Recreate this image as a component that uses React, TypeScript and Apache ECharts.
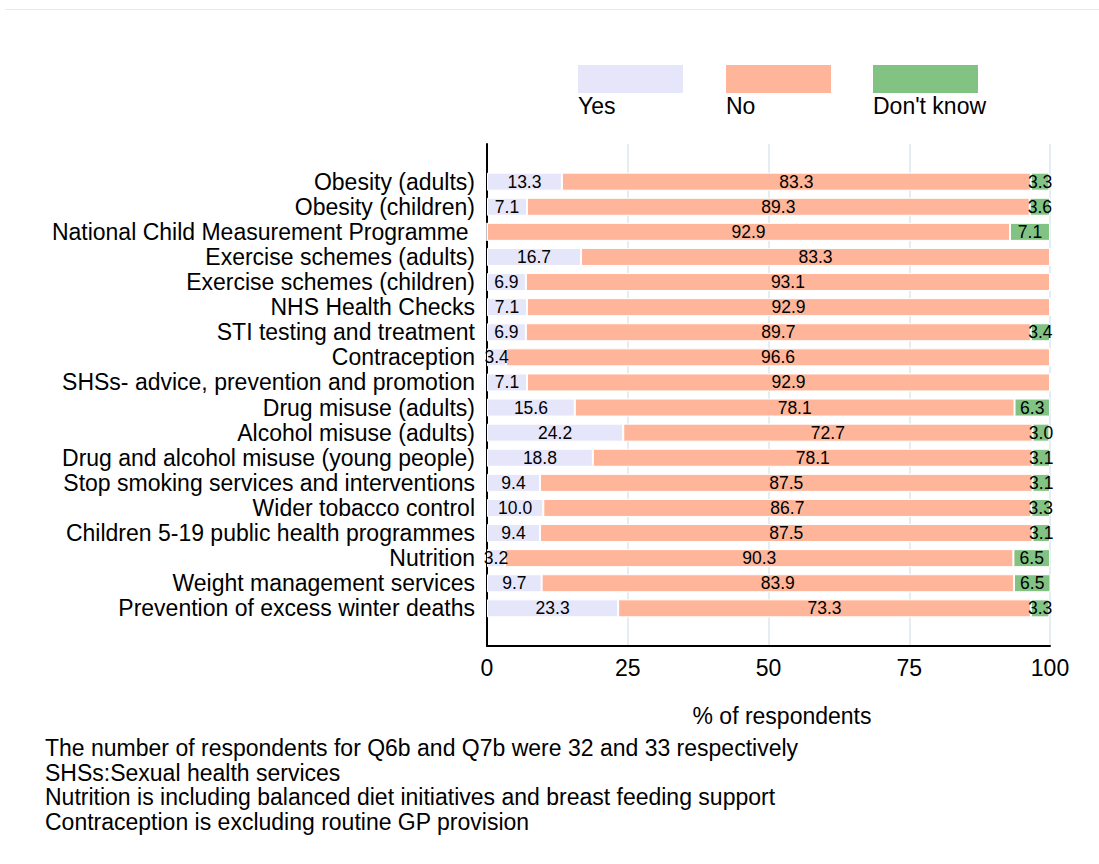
import React, { useEffect, useRef } from "react";
import * as echarts from "echarts";

const categories = [
  "Obesity (adults)",
  "Obesity (children)",
  "National Child Measurement Programme ",
  "Exercise schemes (adults)",
  "Exercise schemes (children)",
  "NHS Health Checks",
  "STI testing and treatment",
  "Contraception",
  "SHSs- advice, prevention and promotion",
  "Drug misuse (adults)",
  "Alcohol misuse (adults)",
  "Drug and alcohol misuse (young people)",
  "Stop smoking services and interventions",
  "Wider tobacco control",
  "Children 5-19 public health programmes",
  "Nutrition",
  "Weight management services",
  "Prevention of excess winter deaths",
];

const yesValues = [13.3, 7.1, 0, 16.7, 6.9, 7.1, 6.9, 3.4, 7.1, 15.6, 24.2, 18.8, 9.4, 10.0, 9.4, 3.2, 9.7, 23.3];
const noValues = [83.3, 89.3, 92.9, 83.3, 93.1, 92.9, 89.7, 96.6, 92.9, 78.1, 72.7, 78.1, 87.5, 86.7, 87.5, 90.3, 83.9, 73.3];
const dkValues = [3.3, 3.6, 7.1, 0, 0, 0, 3.4, 0, 0, 6.3, 3.0, 3.1, 3.1, 3.3, 3.1, 6.5, 6.5, 3.3];

const seriesNames = ["Yes", "No", "Don't know"];
const seriesColors = ["#e6e6fa", "#ffb599", "#82c383"];
const xTicks = [0, 25, 50, 75, 100];
const xAxisTitle = "% of respondents";

const footnotes = [
  "The number of respondents for Q6b and Q7b were 32 and 33 respectively",
  "SHSs:Sexual health services",
  "Nutrition is including balanced diet initiatives and breast feeding support",
  "Contraception is excluding routine GP provision",
];

const FONT = "'Liberation Sans', Arial, sans-serif";
const FS = 23;

export default function App() {
  const ref = useRef<HTMLDivElement>(null);

  useEffect(() => {
    if (!ref.current) return;
    const chart = echarts.init(ref.current, null, { renderer: "svg" });

    const cats = ["", ...categories, " "];
    const pad = (arr: number[]) => ["-", ...arr, "-"] as any[];
    const all = [yesValues, noValues, dkValues];

    const series = all.map((vals, i) => ({
      name: seriesNames[i],
      type: "bar",
      stack: "total",
      barWidth: 18,
      data: pad(vals),
      itemStyle: { color: seriesColors[i], borderColor: "#ffffff", borderWidth: 1 },
      label: {
        show: true,
        position: "inside",
        color: "#000",
        fontSize: 17.5,
        fontFamily: FONT,
        formatter: (p: any) => (typeof p.value === "number" && p.value > 0 ? p.value.toFixed(1) : ""),
      },
    }));

    const legendX = [578, 726, 873];
    const legendGraphics: any[] = [];
    seriesNames.forEach((n, i) => {
      legendGraphics.push({
        type: "rect",
        shape: { x: legendX[i], y: 65, width: 105, height: 28 },
        style: { fill: seriesColors[i] },
      });
      legendGraphics.push({
        type: "text",
        x: legendX[i],
        y: 106,
        style: { text: n, fill: "#000", fontSize: FS, fontFamily: FONT, verticalAlign: "middle" },
      });
    });

    const footGraphics = footnotes.map((t, i) => ({
      type: "text",
      x: 45,
      y: 748 + i * 24.7,
      style: { text: t, fill: "#000", fontSize: FS, fontFamily: FONT, verticalAlign: "middle" },
    }));

    chart.setOption({
      animation: false,
      backgroundColor: "#ffffff",
      grid: { left: 487, right: 49, top: 144, bottom: 218, containLabel: false },
      xAxis: {
        type: "value",
        min: 0,
        max: 100,
        interval: 25,
        axisLine: { show: true, lineStyle: { color: "#000", width: 2 } },
        axisTick: { show: false },
        axisLabel: {
          color: "#000",
          fontSize: FS,
          fontFamily: FONT,
          margin: 10,
          formatter: (v: number) => (xTicks.includes(v) ? String(v) : ""),
        },
        splitLine: { show: true, lineStyle: { color: "#e4eef2", width: 2 } },
      },
      yAxis: {
        type: "category",
        data: cats,
        inverse: true,
        axisLine: { show: true, lineStyle: { color: "#000", width: 2 } },
        axisTick: { show: false },
        axisLabel: { color: "#000", fontSize: FS, fontFamily: FONT, margin: 12, interval: 0, padding: [0, 0, 3, 0] },
        splitLine: { show: false },
      },
      series,
      graphic: [
        {
          type: "line",
          shape: { x1: 5, y1: 9.5, x2: 1099, y2: 9.5 },
          style: { stroke: "#e6eced", lineWidth: 1 },
        },
        {
          type: "text",
          x: 782,
          y: 716,
          style: { text: xAxisTitle, fill: "#000", fontSize: FS, fontFamily: FONT, align: "center", verticalAlign: "middle" },
        },
        ...legendGraphics,
        ...footGraphics,
      ],
    });

    return () => chart.dispose();
  }, []);

  return (
    <div
      ref={ref}
      style={{ position: "fixed", left: 0, top: 0, width: 1099, height: 864, background: "#fff" }}
    />
  );
}
